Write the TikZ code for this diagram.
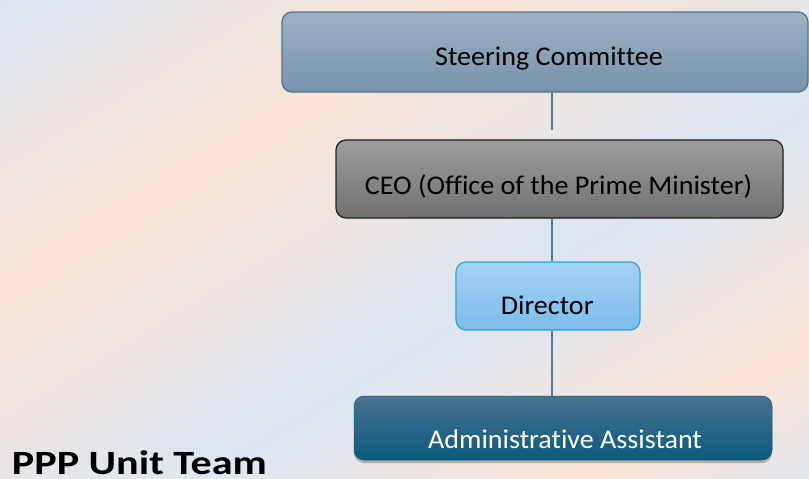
\documentclass[tikz,border=0pt]{standalone}
\usepackage{fontspec}
\setmainfont{Carlito}[Ligatures={NoCommon}, FakeStretch=1.04]
\newfontfamily\titlefont{Carlito}[Ligatures={NoCommon}, FakeStretch=1.24]
\usetikzlibrary{shadows}
\definecolor{bgblue}{HTML}{DCE6F2}
\definecolor{bgpeach}{HTML}{FBE4D6}
\definecolor{bgend}{HTML}{E2E6EE}
\definecolor{scTop}{HTML}{9DB1C3}
\definecolor{scBot}{HTML}{7893AC}
\definecolor{scLine}{HTML}{4C7390}
\definecolor{ceoTop}{HTML}{9E9E9E}
\definecolor{ceoBot}{HTML}{707070}
\definecolor{ceoLine}{HTML}{1C1C1C}
\definecolor{dirTop}{HTML}{A5D2F4}
\definecolor{dirBot}{HTML}{7CBBEA}
\definecolor{dirLine}{HTML}{2AA4DA}
\definecolor{admTop}{HTML}{4A7290}
\definecolor{admBot}{HTML}{0B5A7E}
\definecolor{connCol}{HTML}{4B7D9A}
\pgfdeclarehorizontalshading{bgshade}{100bp}{color(0bp)=(bgblue); color(25bp)=(bgblue); color(40bp)=(bgpeach); color(56bp)=(bgblue); color(68bp)=(bgpeach); color(75bp)=(bgend); color(100bp)=(bgend)}
\tikzset{
  orgbox/.style={rounded corners=10pt, line width=1.2pt, shading=axis, inner sep=0pt},
  boxtext/.style={anchor=base, inner sep=0pt, font=\fontsize{27}{32}\selectfont},
  conn/.style={draw=connCol, line width=1.5pt}
}
\begin{document}
\begin{tikzpicture}[x=1pt, y=-1pt]
\useasboundingbox (0,0) rectangle (809,479);
\begin{scope}
  \clip (0,0) rectangle (809,479);
  \begin{scope}[transform canvas={rotate around={-58.8:(404.5,239.5)}}]
    \shade[shading=bgshade] (-10,-360.5) rectangle (819,839.5);
  \end{scope}
\end{scope}
% boxes
\node[orgbox, draw=scLine, top color=scTop, bottom color=scBot, minimum width=526pt, minimum height=80pt] (sc) at (545,52) {};
\node[orgbox, draw=ceoLine, top color=ceoTop, bottom color=ceoBot, minimum width=447pt, minimum height=78pt] (ceo) at (559.5,179) {};
\node[orgbox, draw=dirLine, top color=dirTop, bottom color=dirBot, minimum width=184pt, minimum height=68pt] (dir) at (548,296) {};
\node[orgbox, draw=admBot, line width=0.5pt, top color=admTop, bottom color=admBot, minimum width=418pt, minimum height=64pt,
      drop shadow={shadow xshift=0pt, shadow yshift=-3pt, opacity=0.35, fill=black!70}] (adm) at (563,428) {};
% texts
\node[boxtext] (sct) at (549,65) {Steering Committee};
\node[boxtext] (ceot) at (558.5,194.7) {CEO (Office of the Prime Minister)};
\node[boxtext] (dirt) at (547.2,314.7) {Director};
\node[boxtext, text=white] (admt) at (565,448) {Administrative Assistant};
\node[anchor=base west, inner sep=0pt, text depth=0pt, font=\titlefont\bfseries\fontsize{34}{40}\selectfont] (title) at (11.7,474) {PPP Unit Team};
% connectors
\coordinate (c1) at (552,130);
\draw[conn] (sc.south -| c1) -- (c1);
\draw[conn] (ceo.south -| c1) -- (dir.north -| c1);
\draw[conn] (dir.south -| c1) -- (adm.north -| c1);
\end{tikzpicture}
\end{document}
